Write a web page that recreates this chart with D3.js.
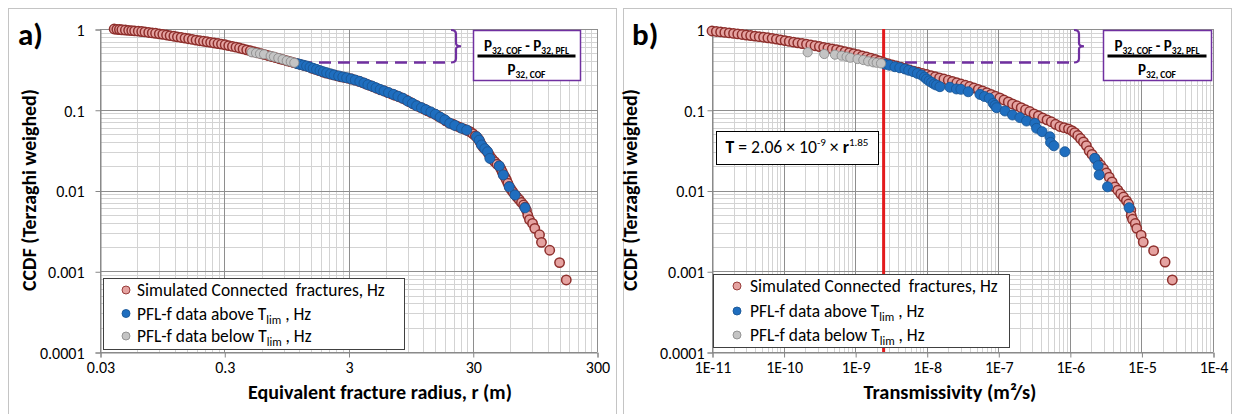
<!DOCTYPE html>
<html><head><meta charset="utf-8">
<script src="https://cdn.jsdelivr.net/npm/d3@7/dist/d3.min.js"></script>
<style>
body{margin:0;background:#fff;}
svg text{font-family:Carlito, Lato, "Open Sans", sans-serif;fill:#000;white-space:pre;}
</style></head><body>
<svg id="chart" width="1235" height="414"></svg>
<script>
// ---------------- DATA ----------------
const ccdfTicks = [1, 0.1, 0.01, 0.001, 0.0001];
const ccdfTickLabels = ["1", "0.1", "0.01", "0.001", "0.0001"];
const radiusTicks = [0.03, 0.3, 3, 30, 300];
const radiusTickLabels = ["0.03", "0.3", "3", "30", "300"];
const transTicks = [1e-11, 1e-10, 1e-9, 1e-8, 1e-7, 1e-6, 1e-5, 1e-4];
const transTickLabels = ["1E-11", "1E-10", "1E-9", "1E-8", "1E-7", "1E-6", "1E-5", "1E-4"];
const seriesNames = ["Simulated Connected  fractures, Hz", "PFL-f data above T", "PFL-f data below T"];

// panel a) : equivalent fracture radius r (m) vs CCDF
const simRadius = [0.039,0.041,0.043,0.045,0.048,0.051,0.054,0.057,0.061,0.065,0.069,0.074,0.079,0.084,0.090,0.096,0.103,0.110,0.118,0.126,0.135,0.145,0.155,0.166,0.178,0.191,0.204,0.218,0.233,0.249,0.267,0.285,0.305,0.326,0.349,0.373,0.398,0.425,0.455,0.486,0.52,0.556,0.595,0.636,0.68,0.727,0.778,0.832,0.889,0.951,1.017,1.087,1.163,1.243,1.33,1.42,1.52,1.63,1.74,1.86,1.99,2.13,2.28,2.44,2.61,2.79,2.98,3.19,3.41,3.65,3.9,4.17,4.46,4.77,5.1,5.45,5.83,6.23,6.66,7.12,7.62,8.15,8.72,9.32,9.97,10.66,11.4,12.2,13.0,13.9,14.9,15.9,17.0,18.2,19.4,20.8,22.2,23.7,25.4,27.1,28.5,30.0,31.5,32.5,33.5,34.3,35.2,36.3,37.6,39.0,40.3,41.5,43,45,47,49,50.5,51.8,53,54.5,56,57.5,59,61,63,65.5,68,71,74,77,79,81.1,83.2,85.8,90.9,94.7,103.4,107.2,124.9,149.9,169.7];
const simRadiusCcdf = [1.0,0.99,0.985,0.978,0.97,0.962,0.955,0.949,0.94,0.93,0.92,0.906,0.895,0.884,0.871,0.858,0.843,0.829,0.814,0.8,0.786,0.771,0.757,0.743,0.729,0.716,0.705,0.694,0.683,0.672,0.66,0.65,0.637,0.623,0.609,0.596,0.582,0.567,0.552,0.537,0.522,0.508,0.494,0.481,0.468,0.455,0.442,0.429,0.417,0.405,0.394,0.383,0.373,0.362,0.352,0.342,0.327,0.316,0.305,0.294,0.285,0.277,0.270,0.263,0.256,0.251,0.246,0.24,0.233,0.225,0.217,0.208,0.2,0.192,0.184,0.176,0.171,0.163,0.157,0.151,0.145,0.139,0.132,0.125,0.118,0.112,0.107,0.102,0.097,0.092,0.088,0.083,0.078,0.073,0.0685,0.066,0.063,0.0603,0.0578,0.0556,0.0535,0.0505,0.0475,0.0455,0.043,0.04,0.037,0.0345,0.0325,0.0308,0.0285,0.0262,0.0245,0.0228,0.0212,0.0201,0.0185,0.017,0.0157,0.0146,0.0135,0.0123,0.0112,0.0103,0.0096,0.0089,0.0083,0.0077,0.0071,0.0066,0.0062,0.00569,0.00493,0.00436,0.00391,0.0034,0.00283,0.00228,0.00182,0.00128,0.00078];
const aboveRadius = [1.16,1.22,1.30,1.38,1.47,1.56,1.66,1.77,1.88,2.0,2.15,2.3,2.5,2.7,2.9,3.15,3.4,3.7,4.0,4.3,4.65,5.0,5.4,5.8,6.3,6.9,7.5,8.2,9.0,9.8,10.6,11.6,12.6,13.8,15.0,16.4,17.9,19.6,21.5,24.4,26.8,32.2,33.8,35.3,37.5,39.5,41.2,49.0,52.8,59.0,65.6,79.0];
const aboveRadiusCcdf = [0.372,0.365,0.356,0.348,0.336,0.326,0.316,0.305,0.295,0.287,0.278,0.27,0.262,0.255,0.249,0.241,0.233,0.224,0.214,0.204,0.196,0.187,0.178,0.171,0.163,0.155,0.147,0.139,0.128,0.12,0.112,0.106,0.1,0.094,0.088,0.081,0.075,0.068,0.064,0.059,0.056,0.0463,0.042,0.0366,0.033,0.0302,0.025,0.0201,0.0156,0.0111,0.0088,0.0061];
const belowRadius = [0.499,0.541,0.582,0.627,0.709,0.753,0.817,0.885,0.955,1.029,1.099];
const belowRadiusCcdf = [0.515,0.504,0.494,0.486,0.463,0.454,0.437,0.421,0.405,0.394,0.382];

// panel b) : transmissivity T (m2/s) vs CCDF
const simTrans = [1.00e-11,1.15e-11,1.32e-11,1.51e-11,1.74e-11,2.00e-11,2.29e-11,2.63e-11,3.02e-11,3.47e-11,3.98e-11,4.57e-11,5.25e-11,6.03e-11,6.92e-11,7.94e-11,9.12e-11,1.05e-10,1.20e-10,1.38e-10,1.58e-10,1.82e-10,2.09e-10,2.40e-10,2.75e-10,3.16e-10,3.63e-10,4.17e-10,4.79e-10,5.50e-10,6.31e-10,7.24e-10,8.32e-10,9.55e-10,1.10e-9,1.26e-9,1.45e-9,1.66e-9,1.91e-9,2.19e-9,2.51e-9,2.88e-9,3.31e-9,3.80e-9,4.37e-9,5.01e-9,5.75e-9,6.61e-9,7.59e-9,8.71e-9,1.00e-8,1.15e-8,1.32e-8,1.51e-8,1.74e-8,2.00e-8,2.29e-8,2.63e-8,3.02e-8,3.47e-8,3.98e-8,4.57e-8,5.25e-8,6.03e-8,6.92e-8,7.94e-8,9.12e-8,1.05e-7,1.20e-7,1.38e-7,1.58e-7,1.82e-7,2.09e-7,2.40e-7,2.75e-7,3.16e-7,3.63e-7,4.17e-7,4.79e-7,5.50e-7,6.31e-7,7.24e-7,8.32e-7,9.55e-7,1.07e-6,1.17e-6,1.29e-6,1.41e-6,1.55e-6,1.70e-6,1.86e-6,2.04e-6,2.24e-6,2.45e-6,2.69e-6,2.95e-6,3.24e-6,3.55e-6,3.89e-6,4.27e-6,4.68e-6,5.13e-6,5.62e-6,6.17e-6,6.61e-6,7.1e-6,7.2e-6,7.5e-6,8.2e-6,8.6e-6,9.9e-6,1.06e-5,1.48e-5,2.14e-5,2.7e-5];
const simTransCcdf = [0.945,0.932,0.920,0.907,0.895,0.882,0.869,0.855,0.842,0.830,0.817,0.804,0.791,0.778,0.766,0.750,0.734,0.718,0.702,0.687,0.674,0.660,0.648,0.634,0.620,0.606,0.593,0.580,0.566,0.554,0.540,0.525,0.510,0.495,0.480,0.465,0.450,0.436,0.420,0.403,0.386,0.372,0.360,0.348,0.336,0.324,0.312,0.301,0.291,0.282,0.273,0.264,0.256,0.248,0.240,0.232,0.224,0.216,0.208,0.201,0.194,0.186,0.179,0.171,0.163,0.155,0.147,0.140,0.132,0.125,0.118,0.112,0.106,0.100,0.095,0.089,0.084,0.079,0.075,0.071,0.066,0.062,0.060,0.058,0.055,0.052,0.048,0.044,0.040,0.036,0.031,0.028,0.025,0.0228,0.0207,0.0186,0.0165,0.0146,0.0128,0.0111,0.0101,0.0091,0.0083,0.0075,0.0068,0.0057,0.0049,0.0044,0.0039,0.0034,0.0028,0.0023,0.0018,0.0013,0.00078];
const aboveTrans = [2.61e-9,3.0e-9,3.6e-9,4.2e-9,4.97e-9,5.6e-9,6.48e-9,7.4e-9,8.47e-9,9.3e-9,9.95e-9,1.08e-8,1.17e-8,1.27e-8,1.37e-8,1.53e-8,2.11e-8,2.6e-8,3.0e-8,3.8e-8,5.54e-8,6.4e-8,7.47e-8,8.49e-8,9.0e-8,9.47e-8,1.24e-7,1.58e-7,2.0e-7,2.48e-7,3.24e-7,3.43e-7,4.1e-7,5.26e-7,5.37e-7,5.98e-7,8.51e-7,2.23e-6,2.48e-6,2.57e-6,3.36e-6,6.73e-6];
const aboveTransCcdf = [0.366,0.356,0.341,0.331,0.320,0.308,0.296,0.282,0.269,0.254,0.240,0.228,0.218,0.208,0.202,0.193,0.190,0.181,0.179,0.167,0.155,0.146,0.139,0.120,0.113,0.106,0.0965,0.0861,0.080,0.0725,0.0679,0.0589,0.0535,0.0463,0.0394,0.0358,0.0302,0.025,0.0203,0.0156,0.0111,0.00612];
const belowTrans = [2.17e-10,3.70e-10,5.22e-10,6.48e-10,7.60e-10,8.55e-10,1.08e-9,1.30e-9,1.52e-9,1.79e-9,2.0e-9,2.3e-9];
const belowTransCcdf = [0.515,0.490,0.481,0.467,0.454,0.441,0.425,0.413,0.398,0.387,0.382,0.375];

const transLimit = 2.5e-9;        // red vertical line, T_lim
const ccdfAtLimit = 0.39;         // level of the dashed line
const equation = {T: "T", a: " = 2.06 × 10", exp1: "-9", b: " × ", r: "r", exp2: "1.85"};

// ---------------- STYLE / LAYOUT ----------------
const styles = {
  sim:   {fill: "#e5a3a1", stroke: "#8e2f2c", r: 4.7, sw: 1.5},
  above: {fill: "#1f6ebf", stroke: "#1a5796", r: 5, sw: 0.9},
  below: {fill: "#c4c4c4", stroke: "#8c8c8c", r: 4.6, sw: 0.9}
};
const svg = d3.select("#chart");

function fitText(sel, width) {
  const fs = parseFloat(sel.attr("font-size"));
  const len = sel.node().getComputedTextLength();
  if (len > 0) sel.attr("font-size", fs * width / len);
  return parseFloat(sel.attr("font-size"));
}

function drawPanel(cfg) {
  const g = svg.append("g");
  g.append("rect").attr("x", cfg.box[0] + 0.5).attr("y", cfg.box[1] + 0.5)
    .attr("width", cfg.box[2]).attr("height", cfg.box[3])
    .attr("fill", "#fff").attr("stroke", "#c4c4c4").attr("stroke-width", 1);

  const x = d3.scaleLog().domain(cfg.xDomain).range([cfg.x0, cfg.x1]);
  const y = d3.scaleLog().domain([1e-4, 1]).range([cfg.y1, cfg.y0]);

  // grid
  const xMinor = [], yMinor = [];
  for (let i = 0; i < cfg.xTicks.length - 1; i++) for (let m = 2; m <= 9; m++) xMinor.push(cfg.xTicks[i] * m);
  for (let i = 1; i < ccdfTicks.length; i++) for (let m = 2; m <= 9; m++) yMinor.push(ccdfTicks[i] * m);
  const grid = g.append("g").attr("shape-rendering", "crispEdges");
  grid.selectAll(".xm").data(xMinor).join("line")
    .attr("x1", d => Math.round(x(d)) + 0.5).attr("x2", d => Math.round(x(d)) + 0.5)
    .attr("y1", cfg.y0).attr("y2", cfg.y1).attr("stroke", "#d3d3d3");
  grid.selectAll(".ym").data(yMinor).join("line")
    .attr("y1", d => Math.round(y(d)) + 0.5).attr("y2", d => Math.round(y(d)) + 0.5)
    .attr("x1", cfg.x0).attr("x2", cfg.x1).attr("stroke", "#d3d3d3");
  grid.selectAll(".xM").data(cfg.xTicks).join("line")
    .attr("x1", d => Math.round(x(d)) + 0.5).attr("x2", d => Math.round(x(d)) + 0.5)
    .attr("y1", cfg.y0).attr("y2", cfg.y1).attr("stroke", "#8e8e8e");
  grid.selectAll(".yM").data(ccdfTicks).join("line")
    .attr("y1", d => Math.round(y(d)) + 0.5).attr("y2", d => Math.round(y(d)) + 0.5)
    .attr("x1", cfg.x0).attr("x2", cfg.x1).attr("stroke", "#8e8e8e");

  // axes
  const yAxis = g.append("g").attr("transform", `translate(${cfg.x0 + 0.5},0.5)`)
    .call(d3.axisLeft(y).tickValues(ccdfTicks).tickFormat((d, i) => ccdfTickLabels[i]).tickSize(5).tickPadding(cfg.yPad));
  const xAxis = g.append("g").attr("transform", `translate(0.5,${cfg.y1 + 0.5})`)
    .call(d3.axisBottom(x).tickValues(cfg.xTicks).tickFormat((d, i) => cfg.xLabels[i]).tickSize(5).tickPadding(cfg.xPad));
  [yAxis, xAxis].forEach(a => {
    a.select(".domain").attr("stroke", "#868686");
    a.selectAll(".tick line").attr("stroke", "#868686");
    a.selectAll("text").attr("font-family", null).attr("font-size", cfg.tickFont).attr("fill", "#000");
  });
  yAxis.selectAll("text").attr("dy", "0.36em");

  // annotation behind points
  if (cfg.limit) {
    g.append("line").attr("x1", x(cfg.limit)).attr("x2", x(cfg.limit)).attr("y1", cfg.y0).attr("y2", cfg.y1)
      .attr("stroke", "#e31a1c").attr("stroke-width", 3);
  }
  const yl = Math.round(y(ccdfAtLimit)) + 0.5, yTop = y(1) + 1, yMid = (yl + yTop) / 2;
  g.append("line").attr("x1", cfg.dashFrom).attr("x2", cfg.braceX - 4).attr("y1", yl).attr("y2", yl)
    .attr("stroke", "#7030a0").attr("stroke-width", 2.5).attr("stroke-dasharray", "12,7");
  g.append("path")
    .attr("d", `M${cfg.braceX - 5},${yTop} Q${cfg.braceX},${yTop} ${cfg.braceX},${yTop + 4} L${cfg.braceX},${yMid - 3} Q${cfg.braceX},${yMid} ${cfg.braceX + 5},${yMid} Q${cfg.braceX},${yMid} ${cfg.braceX},${yMid + 3} L${cfg.braceX},${yl - 4} Q${cfg.braceX},${yl} ${cfg.braceX - 5},${yl}`)
    .attr("fill", "none").attr("stroke", "#7030a0").attr("stroke-width", 2.2);

  // points
  const pts = (xs, ys) => d3.zip(xs, ys);
  const layer = g.append("g");
  [["sim", cfg.sim], ["above", cfg.above], ["below", cfg.below]].forEach(([k, d]) => {
    layer.append("g").selectAll("circle").data(pts(d[0], d[1])).join("circle")
      .attr("cx", p => x(p[0])).attr("cy", p => y(p[1])).attr("r", styles[k].r)
      .attr("fill", styles[k].fill).attr("stroke", styles[k].stroke).attr("stroke-width", styles[k].sw);
  });

  // fraction box
  const fb = cfg.fracBox;
  g.append("rect").attr("x", fb[0] + 0.5).attr("y", fb[1] + 0.5).attr("width", fb[2]).attr("height", fb[3])
    .attr("fill", "#fff").attr("stroke", "#7030a0").attr("stroke-width", 1.5);
  const cx = fb[0] + fb[2] / 2;
  const num = g.append("text").attr("x", cx).attr("y", fb[1] + 20.5).attr("text-anchor", "middle")
    .attr("font-weight", "bold").attr("font-size", 15);
  num.append("tspan").text("P");
  num.append("tspan").attr("font-size", 9.5).attr("dy", 3).text("32, COF");
  num.append("tspan").attr("dy", -3).text(" - P");
  num.append("tspan").attr("font-size", 9.5).attr("dy", 3).text("32, PFL");
  g.append("line").attr("x1", cx - cfg.numW / 2 - 1).attr("x2", cx + cfg.numW / 2 + 1)
    .attr("y1", fb[1] + 26).attr("y2", fb[1] + 26).attr("stroke", "#000").attr("stroke-width", 3);
  const den = g.append("text").attr("x", cx).attr("y", fb[1] + 44.5).attr("text-anchor", "middle")
    .attr("font-weight", "bold").attr("font-size", 15);
  den.append("tspan").text("P");
  den.append("tspan").attr("font-size", 9.5).attr("dy", 3).text("32, COF");

  // legend
  const L = cfg.legend;
  g.append("rect").attr("x", L.x + 0.5).attr("y", L.y + 0.5).attr("width", L.w).attr("height", L.h)
    .attr("fill", "#fff").attr("stroke", "#404040").attr("stroke-width", 1);
  const keys = ["sim", "above", "below"];
  let lfs = 16;
  keys.forEach((k, i) => {
    g.append("circle").attr("cx", L.mx).attr("cy", L.rows[i]).attr("r", 4)
      .attr("fill", styles[k].fill).attr("stroke", styles[k].stroke).attr("stroke-width", 0.9);
    const t = g.append("text").attr("x", L.tx).attr("y", L.rows[i]).attr("dy", "0.35em").attr("font-size", lfs);
    t.append("tspan").text(seriesNames[i]);
    if (i > 0) {
      t.append("tspan").attr("font-size", lfs * 0.68).attr("dy", 4).text("lim");
      t.append("tspan").attr("dy", -4).text(" , Hz");
    }
    if (i === 0) lfs = fitText(t, L.firstW);
    else t.attr("font-size", lfs).select("tspan:nth-child(2)").attr("font-size", lfs * 0.68);
  });

  // titles
  g.append("text").attr("x", cfg.tagX).attr("y", 45).attr("font-size", 31).attr("font-weight", "bold").text(cfg.tag);
  const xt = g.append("text").attr("x", cfg.xTitleX).attr("y", cfg.xTitleY).attr("text-anchor", "middle")
    .attr("font-weight", "bold").attr("font-size", 17).text(cfg.xTitle);
  fitText(xt, cfg.xTitleW);
  const yt = g.append("text").attr("transform", `translate(${cfg.yTitleX},${cfg.yTitleY}) rotate(-90)`)
    .attr("text-anchor", "middle").attr("font-weight", "bold").attr("font-size", 17).text("CCDF (Terzaghi weighed)");
  fitText(yt, 202);
  return {g, x, y};
}

const A = drawPanel({
  box: [8, 8, 608, 410], xDomain: [0.03, 300], x0: 100, x1: 597, y0: 29, y1: 352,
  xTicks: radiusTicks, xLabels: radiusTickLabels, yPad: 11, xPad: 4, tickFont: 16,
  sim: [simRadius, simRadiusCcdf], above: [aboveRadius, aboveRadiusCcdf], below: [belowRadius, belowRadiusCcdf],
  dashFrom: 300, braceX: 456, fracBox: [473, 30, 107, 50], numW: 96,
  legend: {x: 103, y: 278, w: 301, h: 71, rows: [290, 313.5, 336], mx: 126, tx: 137, firstW: 248},
  tag: "a)", tagX: 18, xTitle: "Equivalent fracture radius, r (m)", xTitleX: 380, xTitleY: 399, xTitleW: 264,
  yTitleX: 36, yTitleY: 190
});
const B = drawPanel({
  box: [623, 8, 608, 410], xDomain: [1e-11, 1e-4], x0: 712, x1: 1213, y0: 29, y1: 352,
  xTicks: transTicks, xLabels: transTickLabels, yPad: 3, xPad: 4, tickFont: 16,
  sim: [simTrans, simTransCcdf], above: [aboveTrans, aboveTransCcdf], below: [belowTrans, belowTransCcdf],
  limit: transLimit, dashFrom: 886, braceX: 1079, fracBox: [1103, 30, 108, 50], numW: 97,
  legend: {x: 713, y: 274, w: 296, h: 73, rows: [286, 311, 335], mx: 737, tx: 750, firstW: 248},
  tag: "b)", tagX: 632, xTitle: "Transmissivity (m²/s)", xTitleX: 950, xTitleY: 399, xTitleW: 173,
  yTitleX: 637, yTitleY: 190
});

// equation box in panel b
const eg = B.g.append("g");
eg.append("rect").attr("x", 716.5).attr("y", 131.5).attr("width", 162).attr("height", 33)
  .attr("fill", "#fff").attr("stroke", "#000").attr("stroke-width", 1);
const et = eg.append("text").attr("x", 797).attr("y", 153).attr("text-anchor", "middle").attr("font-size", 17);
et.append("tspan").attr("font-weight", "bold").text(equation.T);
et.append("tspan").text(equation.a);
et.append("tspan").attr("font-size", 11).attr("dy", -7).text(equation.exp1);
et.append("tspan").attr("dy", 7).text(equation.b);
et.append("tspan").attr("font-weight", "bold").text(equation.r);
et.append("tspan").attr("font-size", 11).attr("dy", -7).text(equation.exp2);
fitText(et, 144);
</script>
</body></html>
